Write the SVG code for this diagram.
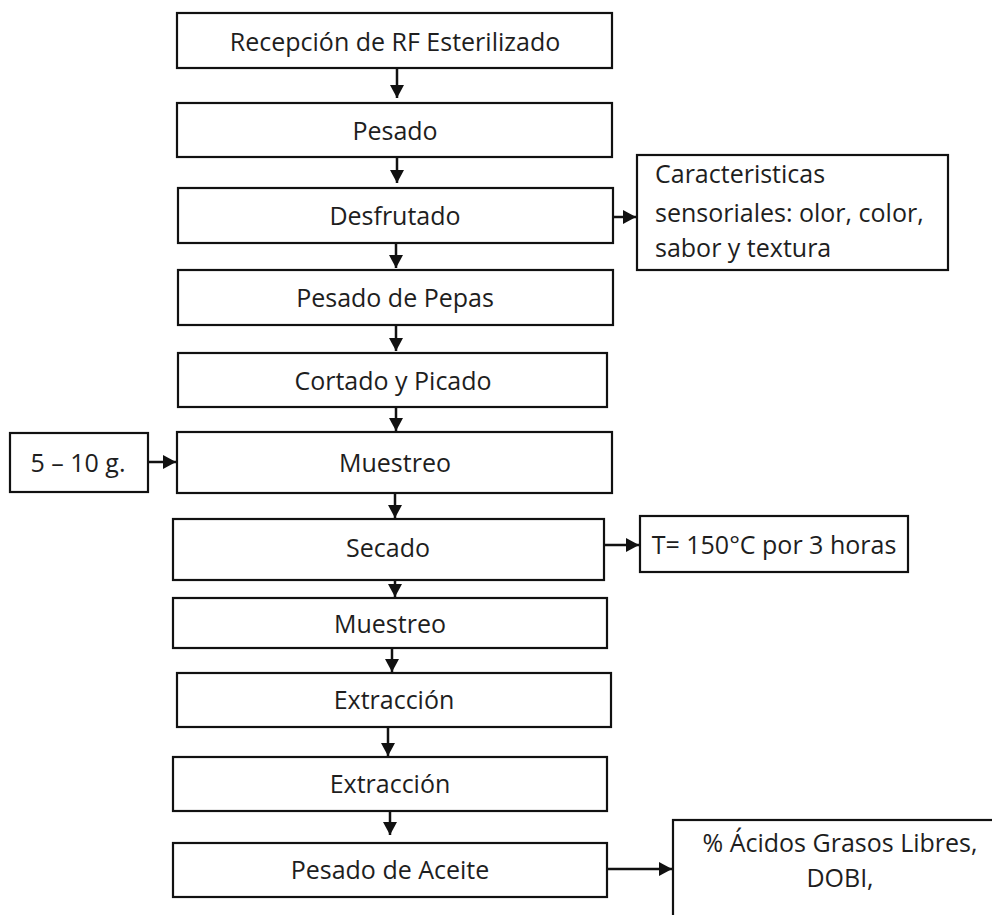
<svg xmlns="http://www.w3.org/2000/svg" width="992" height="915" viewBox="0 0 992 915">
<style>
.box{fill:#fff;stroke:#111;stroke-width:2.2}
.t{font-family:"Open Sans","Liberation Sans",sans-serif;font-size:25px;fill:#1e1e1e;text-anchor:middle;dominant-baseline:central}
.tl{font-family:"Open Sans","Liberation Sans",sans-serif;font-size:25px;fill:#1e1e1e}
.c{stroke:#111;stroke-width:2.5;fill:none;marker-end:url(#ah)}
</style>
<defs>
<marker id="ah" markerUnits="userSpaceOnUse" markerWidth="14" markerHeight="14" refX="13" refY="7" orient="auto">
<path d="M0,0 L13,7 L0,14 z" fill="#111"/>
</marker>
</defs>
<rect width="992" height="915" fill="#fff"/>
<g id="n1"><rect class="box" x="177" y="13" width="435" height="55"/><text class="t" x="395" y="41">Recepción de RF Esterilizado</text></g>
<g id="n2"><rect class="box" x="177" y="103" width="435" height="54"/><text class="t" x="395" y="130">Pesado</text></g>
<g id="n3"><rect class="box" x="178" y="188" width="435" height="55"/><text class="t" x="395" y="215">Desfrutado</text></g>
<g id="n3s"><rect class="box" x="637" y="155" width="311" height="115"/><text class="tl" x="655" y="183">Caracteristicas</text><text class="tl" x="655" y="222">sensoriales: olor, color,</text><text class="tl" x="655" y="257">sabor y textura</text></g>
<g id="n4"><rect class="box" x="178" y="270" width="435" height="55"/><text class="t" x="395" y="297">Pesado de Pepas</text></g>
<g id="n5"><rect class="box" x="178" y="353" width="429" height="54"/><text class="t" x="393" y="380">Cortado y Picado</text></g>
<g id="n6"><rect class="box" x="177" y="432" width="435" height="61"/><text class="t" x="395" y="462">Muestreo</text></g>
<g id="n6s"><rect class="box" x="10" y="433" width="138" height="59"/><text class="t" x="78" y="462">5 – 10 g.</text></g>
<g id="n7"><rect class="box" x="173" y="519" width="431" height="61"/><text class="t" x="388" y="547">Secado</text></g>
<g id="n7s"><rect class="box" x="640" y="516" width="268" height="56"/><text class="t" x="774" y="544">T= 150°C por 3 horas</text></g>
<g id="n8"><rect class="box" x="173" y="598" width="434" height="50"/><text class="t" x="390" y="623">Muestreo</text></g>
<g id="n9"><rect class="box" x="177" y="673" width="434" height="54"/><text class="t" x="394" y="699">Extracción</text></g>
<g id="n10"><rect class="box" x="173" y="757" width="434" height="54"/><text class="t" x="390" y="783">Extracción</text></g>
<g id="n11"><rect class="box" x="173" y="843" width="434" height="54"/><text class="t" x="390" y="869">Pesado de Aceite</text></g>
<g id="n11s"><rect class="box" x="673" y="820" width="340" height="120"/><text class="t" x="840" y="842">% Ácidos Grasos Libres,</text><text class="t" x="840" y="877">DOBI,</text></g>
<g id="connectors">
<line class="c" x1="397" y1="68" x2="397" y2="98"/>
<line class="c" x1="397" y1="157" x2="397" y2="183"/>
<line class="c" x1="396" y1="243" x2="396" y2="268"/>
<line class="c" x1="396" y1="325" x2="396" y2="351"/>
<line class="c" x1="396" y1="407" x2="396" y2="431"/>
<line class="c" x1="395" y1="493" x2="395" y2="518"/>
<line class="c" x1="395" y1="580" x2="395" y2="597"/>
<line class="c" x1="392" y1="648" x2="392" y2="672"/>
<line class="c" x1="388" y1="727" x2="388" y2="756"/>
<line class="c" x1="390" y1="811" x2="390" y2="835"/>
<line class="c" x1="613" y1="217" x2="636" y2="217"/>
<line class="c" x1="148" y1="462" x2="176" y2="462"/>
<line class="c" x1="604" y1="545" x2="639" y2="545"/>
<line class="c" x1="607" y1="869" x2="672" y2="869"/>
</g>
</svg>
